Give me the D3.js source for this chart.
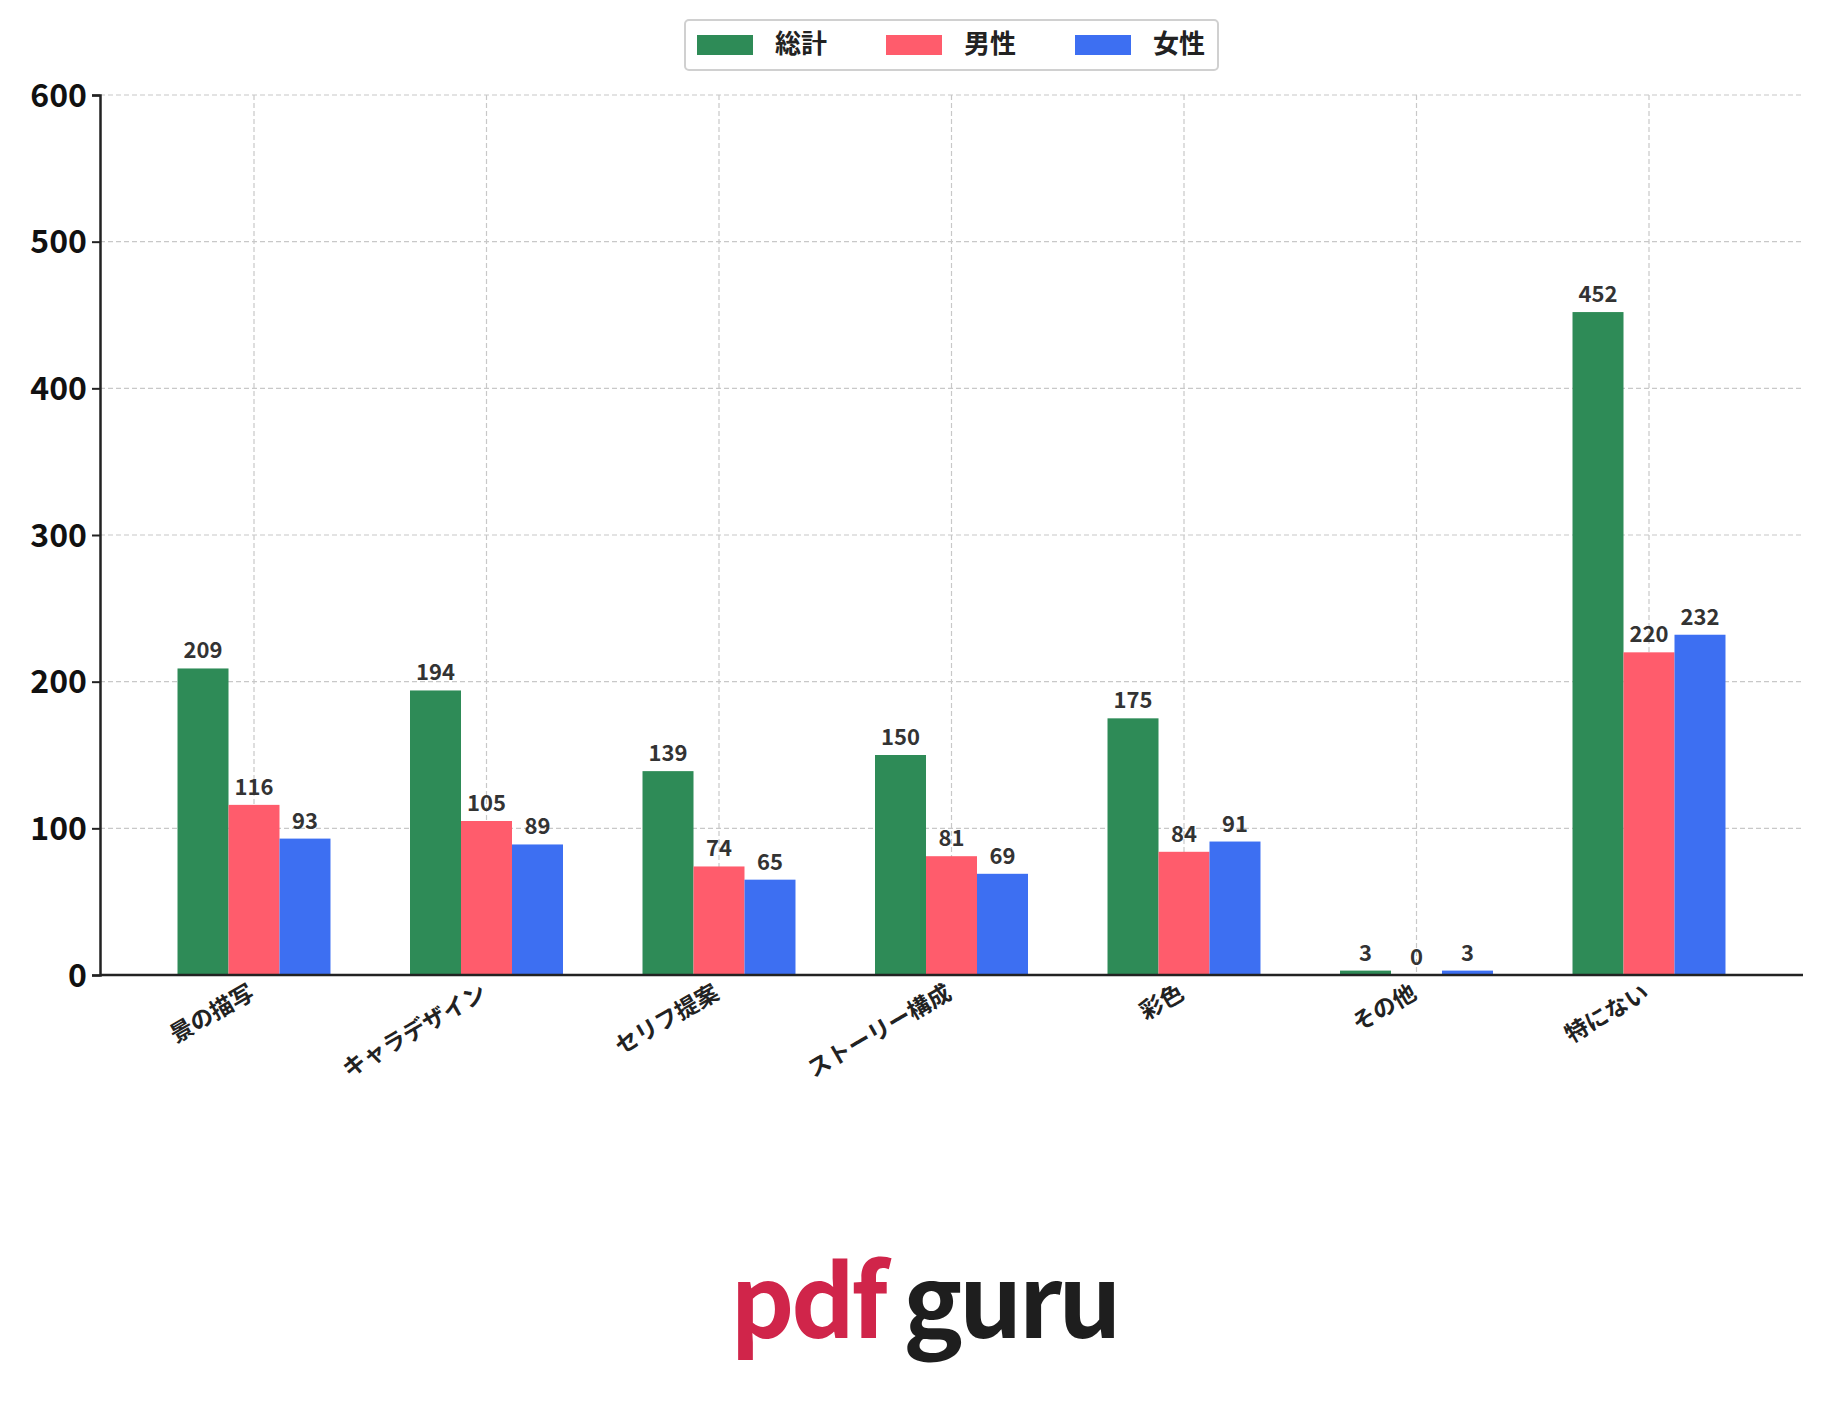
<!DOCTYPE html><html><head><meta charset="utf-8"><script src="https://cdn.jsdelivr.net/npm/d3@7"></script>
<style>body{margin:0;background:#fff}text{font-family:"Noto Sans CJK JP","Noto Sans",sans-serif}</style></head><body>
<svg id="c" width="1824" height="1426"></svg>
<script>
const categories=["景の描写","キャラデザイン","セリフ提案","ストーリー構成","彩色","その他","特にない"];
const total=[209,194,139,150,175,3,452];
const male=[116,105,74,81,84,0,220];
const female=[93,89,65,69,91,3,232];
const seriesNames=["総計","男性","女性"];
const colors=["#2e8b57","#ff5c6c","#3d6ff2"];
const yTicks=[0,100,200,300,400,500,600];
const series=[total,male,female];
const svg=d3.select("#c");
const L=100,R=1803,T=95,B=975;
const y=d3.scaleLinear().domain([0,600]).range([B,T]);
const x0=254-116.25;
const x=d3.scaleBand().domain(categories).range([x0,x0+232.5*7]).paddingInner(0.342).paddingOuter(0.171);
const xs=d3.scaleBand().domain([0,1,2]).range([0,x.bandwidth()]);
svg.append("g").selectAll("line").data(yTicks.slice(1)).join("line").attr("x1",L).attr("x2",R).attr("y1",d=>y(d)).attr("y2",d=>y(d)).attr("stroke","#c8c8c8").attr("stroke-dasharray","5,3").attr("stroke-width",1.2);
svg.append("g").selectAll("line").data(categories).join("line").attr("x1",d=>x(d)+x.bandwidth()/2).attr("x2",d=>x(d)+x.bandwidth()/2).attr("y1",T).attr("y2",B).attr("stroke","#c8c8c8").attr("stroke-dasharray","5,3").attr("stroke-width",1.2);
series.forEach((s,si)=>{
 const g=svg.append("g");
 g.selectAll("rect").data(s).join("rect").attr("x",(d,i)=>x(categories[i])+xs(si)).attr("width",xs.bandwidth()).attr("y",d=>y(d)).attr("height",d=>B-y(d)).attr("fill",colors[si]);
 g.selectAll("text").data(s).join("text").attr("x",(d,i)=>x(categories[i])+xs(si)+xs.bandwidth()/2).attr("y",d=>y(d)-10).attr("text-anchor","middle").attr("font-size",22).attr("font-weight","bold").attr("fill","#333").text(d=>d);
});
const ya=svg.append("g").attr("transform",`translate(${L},0)`).call(d3.axisLeft(y).tickValues(yTicks).tickSize(8));
ya.selectAll("text").attr("font-size",32).attr("font-weight","bold").attr("fill","#111").attr("font-family","DejaVu Sans").attr("dx",-2).attr("dy","0.35em");
ya.select(".domain").attr("stroke","#222").attr("stroke-width",2.5);ya.selectAll(".tick line").attr("stroke","#222").attr("stroke-width",2);
const xa=svg.append("g").attr("transform",`translate(0,${B})`).call(d3.axisBottom(x).tickSize(0));
xa.select(".domain").attr("d",`M${L},0H${R}`).attr("stroke","#222").attr("stroke-width",2.5);
xa.selectAll("text").attr("font-size",23).attr("font-weight","bold").attr("fill","#222").attr("text-anchor","end").attr("transform","translate(-8,6) rotate(-30)").attr("dy","0.7em");
const lg=svg.append("g");
lg.append("rect").attr("x",685).attr("y",20).attr("width",533).attr("height",50).attr("rx",4).attr("fill","#fff").attr("stroke","#d0d0d0").attr("stroke-width",2);
seriesNames.forEach((n,i)=>{const gx=697+i*189;
 lg.append("rect").attr("x",gx).attr("y",35).attr("width",56).attr("height",20).attr("fill",colors[i]);
 lg.append("text").attr("x",gx+78).attr("y",53).attr("font-size",26).attr("font-weight","bold").attr("fill","#222").text(n);});
const wm=svg.append("text").attr("x",924).attr("y",1338).attr("text-anchor","middle").attr("font-size",100).attr("font-weight","bold").attr("font-family","Open Sans, sans-serif").attr("letter-spacing","-4");
wm.append("tspan").attr("fill","#d0254a").text("pdf");wm.append("tspan").attr("fill","#1e1e1e").text(" guru");
</script></body></html>
